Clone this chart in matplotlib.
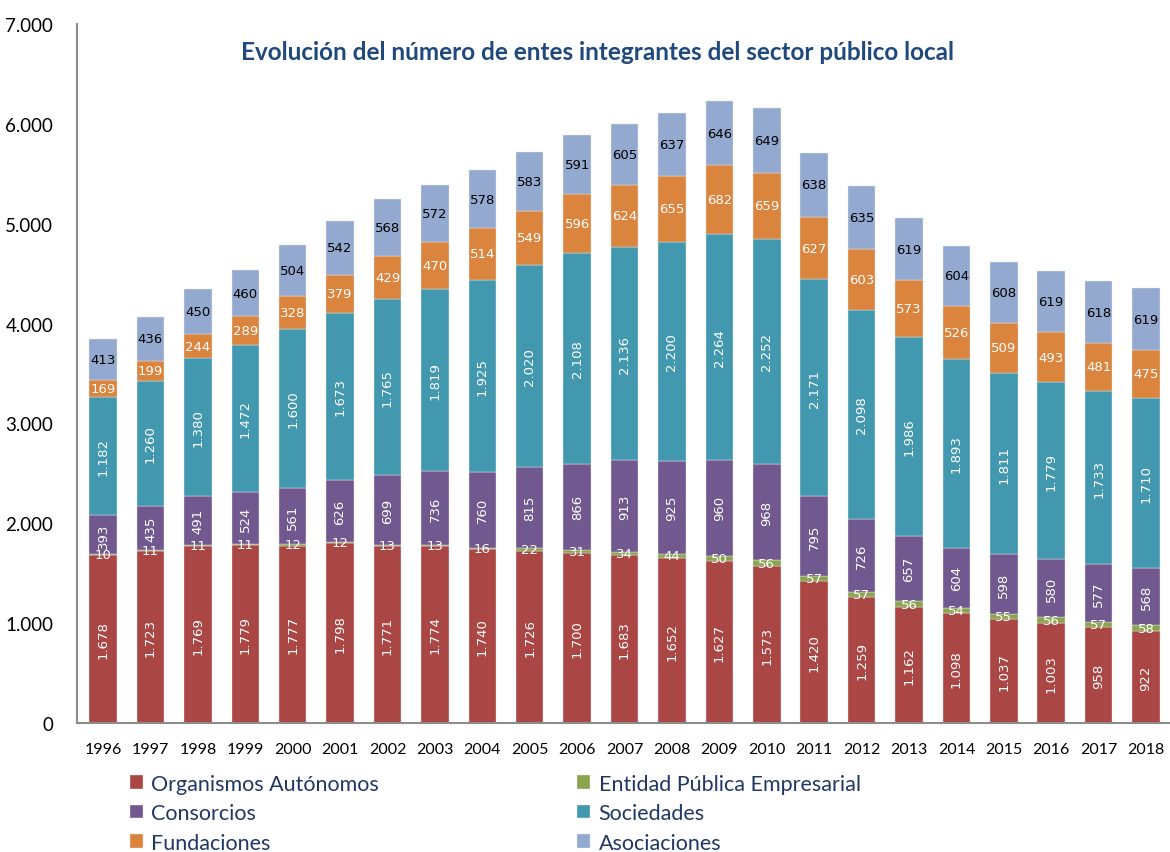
import matplotlib.pyplot as plt
import numpy as np

years = [str(y) for y in range(1996, 2019)]

organismos = [1678, 1723, 1769, 1779, 1777, 1798, 1771, 1774, 1740, 1726, 1700, 1683,
              1652, 1627, 1573, 1420, 1259, 1162, 1098, 1037, 1003, 958, 922]
entidad = [10, 11, 11, 11, 12, 12, 13, 13, 16, 22, 31, 34, 44, 50, 56, 57, 57, 56, 54,
           55, 56, 57, 58]
consorcios = [393, 435, 491, 524, 561, 626, 699, 736, 760, 815, 866, 913, 925, 960, 968,
              795, 726, 657, 604, 598, 580, 577, 568]
sociedades = [1182, 1260, 1380, 1472, 1600, 1673, 1765, 1819, 1925, 2020, 2108, 2136,
              2200, 2264, 2252, 2171, 2098, 1986, 1893, 1811, 1779, 1733, 1710]
fundaciones = [169, 199, 244, 289, 328, 379, 429, 470, 514, 549, 596, 624, 655, 682, 659,
               627, 603, 573, 526, 509, 493, 481, 475]
asociaciones = [413, 436, 450, 460, 504, 542, 568, 572, 578, 583, 591, 605, 637, 646, 649,
                638, 635, 619, 604, 608, 619, 618, 619]

series = [
    ("Organismos Autónomos", organismos, "#AA4643", "white", 90),
    ("Entidad Pública Empresarial", entidad, "#89A54E", "white", 0),
    ("Consorcios", consorcios, "#71588F", "white", 90),
    ("Sociedades", sociedades, "#4198AF", "white", 90),
    ("Fundaciones", fundaciones, "#DB843D", "white", 0),
    ("Asociaciones", asociaciones, "#93A9CF", "black", 0),
]


def fmt(v):
    return f"{v:,}".replace(",", ".")


fig = plt.figure(figsize=(11.7, 8.53), dpi=100)
ax = fig.add_axes([0.0658, 0.1512, 0.934, 0.8195])

x = np.arange(len(years))
bottom = np.zeros(len(years))
handles = {}
for name, vals, color, tcolor, rot in series:
    vals = np.array(vals)
    bars = ax.bar(x, vals, 0.58, bottom=bottom, color=color, edgecolor="#e8e8e8",
                  linewidth=0.3, label=name)
    handles[name] = bars
    for xi, b, v in zip(x, bottom, vals):
        ax.text(xi, b + v / 2, fmt(v), ha="center", va="center", rotation=rot,
                color=tcolor, fontsize=9.5, family="DejaVu Sans")
    bottom += vals

ax.set_xlim(-0.55, 22.5)
ax.set_ylim(0, 7000)
ax.set_yticks(range(0, 7001, 1000))
ax.set_yticklabels([fmt(v) for v in range(0, 7001, 1000)], fontsize=13.5, family="Lato")
ax.set_xticks(x)
ax.set_xticklabels(years, fontsize=11.5, family="Lato")
ax.tick_params(axis="both", length=0)
ax.tick_params(axis="x", pad=14)
ax.tick_params(axis="y", pad=17)
for s in ["top", "right"]:
    ax.spines[s].set_visible(False)
for s in ["left", "bottom"]:
    ax.spines[s].set_color("#8c8c8c")
    ax.spines[s].set_linewidth(1.5)

fig.text(0.511, 0.939, "Evolución del número de entes integrantes del sector público local",
         ha="center", va="center", fontsize=17.5, fontweight="bold", color="#1F497D",
         family="Lato")

order = ["Organismos Autónomos", "Consorcios", "Fundaciones",
         "Entidad Pública Empresarial", "Sociedades", "Asociaciones"]
leg = fig.legend([handles[n] for n in order], order, ncol=2, loc="upper left",
                 bbox_to_anchor=(0.1, 0.107), frameon=False, borderpad=0.1,
                 prop={"family": "Lato", "size": 15.5}, handlelength=0.6, handleheight=0.6,
                 handletextpad=0.4, labelspacing=0.44, columnspacing=9.2)
for t in leg.get_texts():
    t.set_color("#1F3864")

fig.savefig("out.png", dpi=100)
